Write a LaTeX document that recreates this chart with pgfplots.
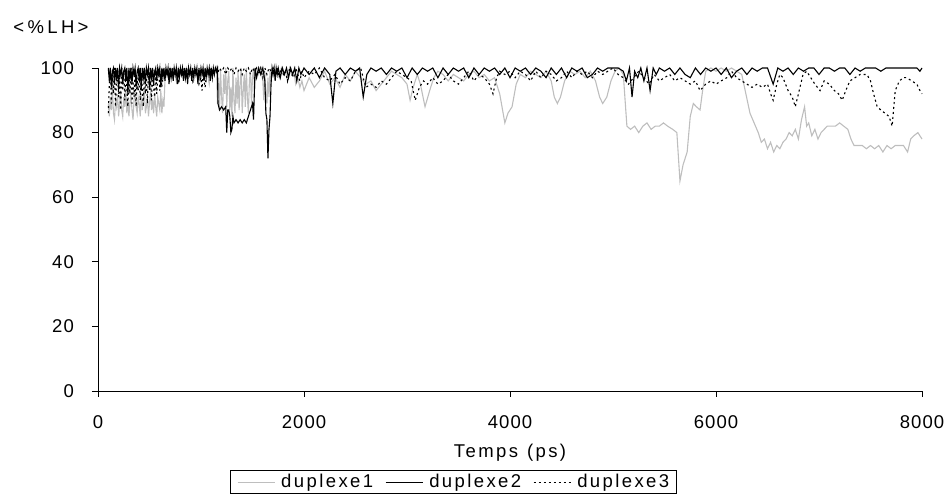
\documentclass[border=0pt]{standalone}
\usepackage{fontspec}
\setmainfont{Liberation Sans}[LetterSpace=13]
\newfontfamily\tickfont{Liberation Sans}[LetterSpace=6]
\newfontfamily\titlefont{Liberation Sans}[LetterSpace=18]
\usepackage{pgfplots}
\usepackage{pgfplotstable}
\pgfplotsset{compat=1.18}
\definecolor{lg}{RGB}{190,190,190}

\pgfplotstableread{
x y
100 89
110 85
120 91
130 87
140 94
150 86
160 84
170 90
180 88
190 92
200 85
210 89
220 93
230 87
240 85
250 91
260 88
270 94
280 86
290 90
300 85
310 89
320 92
330 87
340 84
350 90
360 93
370 88
380 86
390 91
400 89
410 85
420 92
430 87
440 90
450 94
460 86
470 88
480 91
490 85
500 89
510 93
520 87
530 90
540 86
550 92
560 88
570 85
580 91
590 89
600 87
610 93
620 86
630 90
640 88
650 96
660 99
680 97
700 100
720 98
740 99
760 96
780 100
800 98
820 99
840 97
860 100
880 98
900 99
920 96
940 100
960 98
980 99
1000 97
1020 100
1040 98
1060 99
1080 95
1100 100
1120 98
1140 99
1150 100
1160 89
1170 97
1180 87
1190 99
1200 91
1210 86
1220 98
1230 92
1240 100
1250 88
1260 96
1270 99
1280 87
1290 94
1300 85
1310 100
1320 90
1330 86
1340 97
1350 89
1360 99
1370 87
1380 95
1390 100
1400 86
1410 93
1420 98
1430 88
1440 100
1450 91
1460 86
1470 96
1480 99
1490 89
1500 97
1510 100
1520 93
1530 99
1540 100
1560 98
1580 100
1600 96
1610 90
1620 99
1630 92
1640 89
1650 97
1660 91
1670 99
1680 96
1700 100
1720 98
1740 99
1760 97
1780 100
1800 98
1820 99
1840 96
1860 100
1880 98
1900 99
1920 95
1940 97
1960 94
1980 96
2000 93
2050 97
2100 94
2150 96
2200 99
2250 95
2300 97
2350 94
2400 98
2450 96
2500 99
2550 97
2600 95
2650 96
2700 93
2750 95
2800 97
2850 99
2900 98
2950 97
3000 95
3030 90
3060 94
3100 98
3130 95
3175 88
3220 93
3260 97
3300 99
3350 98
3400 96
3450 98
3500 97
3550 96
3600 98
3650 99
3700 97
3750 98
3800 96
3850 97
3900 92
3950 83
3980 86
4020 88
4060 95
4100 98
4150 97
4200 99
4250 98
4300 97
4350 99
4400 96
4430 91
4460 89
4490 91
4530 96
4580 99
4630 98
4680 99
4730 97
4780 99
4830 96
4870 91
4900 89
4940 91
4980 96
5020 99
5060 100
5100 98
5135 82
5170 81
5210 82
5250 80
5290 82
5330 83
5370 81
5410 82
5450 82
5490 83
5530 82
5580 81
5620 80
5650 65
5680 70
5720 74
5750 85
5780 89
5810 88
5845 87
5870 93
5900 99
5950 100
6000 99
6050 100
6100 99
6150 100
6200 99
6250 98
6290 92
6330 86
6370 83
6410 80
6440 77
6470 78
6500 75
6530 77
6560 74
6590 76
6620 75
6650 77
6680 78
6710 80
6740 79
6770 81
6800 78
6830 84
6860 88
6880 82
6900 83
6930 79
6960 81
6990 78
7020 80
7050 81
7080 82
7120 82
7160 82
7200 83
7240 82
7280 81
7310 78
7340 76
7380 76
7420 76
7460 75
7500 76
7540 75
7580 76
7620 74
7660 76
7700 75
7740 76
7780 76
7820 76
7860 74
7890 78
7920 79
7960 80
8000 78
}\dataA

\pgfplotstableread{
x y
100 100
110 96
120 100
130 94
140 99
150 100
160 95
170 100
180 97
190 100
200 93
210 100
220 98
230 100
240 95
250 99
260 100
270 96
280 100
290 92
300 100
310 97
320 100
330 95
340 100
350 98
360 100
370 94
380 99
390 100
400 96
410 100
420 93
430 100
440 97
450 100
460 95
470 100
480 98
490 100
500 94
510 100
520 97
530 100
540 95
550 99
560 100
570 96
580 100
590 98
600 100
610 94
620 100
630 97
640 100
650 96
660 100
670 98
680 100
690 95
700 100
710 97
720 100
730 96
740 100
750 98
760 100
770 95
780 100
790 97
800 100
810 98
820 100
830 96
840 100
850 97
860 100
870 95
880 100
890 98
900 100
910 96
920 100
930 97
940 100
950 98
960 100
970 95
980 100
990 97
1000 100
1010 98
1020 100
1030 96
1040 100
1050 97
1060 100
1070 98
1080 100
1090 96
1100 100
1110 97
1120 100
1130 98
1140 100
1150 99
1160 100
1165 89
1180 87
1200 88
1220 87
1240 88
1250 80
1260 87
1270 87
1280 85
1290 80
1300 81
1310 85
1320 83
1340 84
1360 83
1380 84
1400 83
1420 84
1440 83
1460 85
1480 87
1500 89
1510 84
1525 100
1540 97
1560 100
1580 98
1600 100
1620 96
1630 86
1640 84
1650 72
1660 81
1670 85
1680 95
1690 100
1700 98
1710 100
1720 96
1730 100
1740 98
1750 100
1770 97
1790 100
1810 98
1830 100
1850 97
1870 100
1890 98
1910 100
1930 96
1950 100
1970 98
2000 100
2050 98
2100 100
2150 97
2200 100
2250 98
2280 89
2310 99
2350 100
2400 98
2450 100
2500 99
2540 100
2575 91
2610 98
2650 100
2700 99
2750 100
2800 98
2850 100
2900 99
2950 100
3000 97
3050 100
3100 98
3150 100
3200 99
3250 100
3300 97
3350 100
3400 98
3450 100
3500 99
3550 100
3600 97
3650 100
3700 98
3750 100
3800 99
3850 100
3900 98
3950 100
4000 97
4050 100
4100 99
4150 100
4200 98
4250 100
4300 99
4350 97
4400 100
4450 98
4500 100
4550 97
4600 100
4650 99
4700 100
4750 97
4800 98
4850 100
4900 99
4950 100
5000 100
5050 100
5100 99
5130 96
5160 100
5185 91
5210 99
5240 97
5270 100
5300 96
5330 100
5360 93
5390 100
5420 98
5450 100
5500 99
5550 100
5600 98
5650 100
5700 98
5750 97
5800 100
5850 98
5900 100
5950 99
6000 100
6050 98
6100 100
6150 97
6200 99
6250 100
6300 98
6350 100
6400 99
6450 100
6500 100
6555 95
6600 100
6650 99
6700 100
6750 98
6800 100
6850 99
6900 100
6950 100
7000 98
7050 100
7100 100
7150 99
7200 100
7250 100
7300 98
7350 100
7400 99
7450 100
7500 100
7550 100
7600 99
7650 100
7700 100
7750 100
7800 100
7850 100
7900 100
7950 100
7980 99
8000 100
}\dataB

\pgfplotstableread{
x y
100 86
110 95
120 100
130 89
140 98
150 92
160 100
170 88
180 96
190 100
200 91
210 97
220 87
230 100
240 93
250 99
260 90
270 100
280 94
290 88
300 98
310 92
320 100
330 89
340 96
350 91
360 100
370 88
380 97
390 93
400 100
410 90
420 98
430 94
440 88
450 100
460 92
470 97
480 89
490 100
500 93
510 96
520 90
530 100
540 94
550 91
560 99
570 92
580 97
590 100
600 93
610 98
620 94
630 100
640 97
650 99
660 100
680 98
700 100
720 97
740 100
760 99
780 96
800 100
820 98
840 100
860 97
880 100
900 99
920 96
940 100
960 98
980 95
1000 97
1010 93
1020 98
1040 94
1060 100
1080 98
1100 100
1120 99
1140 100
1160 98
1180 100
1200 99
1220 100
1240 98
1260 100
1280 99
1300 100
1320 98
1340 100
1360 99
1380 100
1400 98
1420 100
1440 99
1460 100
1480 98
1500 100
1520 99
1540 100
1560 98
1580 100
1600 97
1620 100
1640 98
1660 100
1680 99
1700 100
1720 98
1740 100
1760 97
1780 100
1800 98
1820 99
1840 96
1860 100
1880 98
1900 97
1920 100
1940 98
1960 96
1980 99
2000 97
2050 99
2100 98
2150 100
2200 97
2250 96
2300 98
2350 95
2400 97
2450 96
2500 99
2550 100
2600 94
2650 95
2700 94
2750 96
2800 95
2850 97
2900 99
2950 98
3000 97
3040 96
3080 90
3120 94
3160 96
3200 95
3250 97
3300 95
3350 96
3400 98
3450 96
3500 95
3550 97
3600 99
3650 96
3700 98
3750 97
3800 95
3835 92
3870 97
3900 99
3950 98
4000 99
4050 97
4100 99
4150 98
4200 96
4250 99
4300 97
4350 99
4400 98
4450 96
4500 97
4550 99
4600 97
4650 99
4700 98
4750 99
4800 97
4850 99
4900 98
4950 99
5000 100
5050 98
5100 97
5150 95
5200 97
5250 99
5300 97
5350 95
5400 98
5450 96
5500 97
5550 98
5600 96
5650 97
5700 96
5750 95
5800 96
5845 93
5900 95
5950 96
6000 95
6050 96
6105 97
6150 99
6200 97
6250 96
6300 95
6350 94
6400 95
6450 94
6500 95
6530 92
6555 90
6590 95
6620 98
6650 97
6700 93
6740 91
6770 88
6800 92
6845 98
6880 99
6920 97
6960 95
7010 93
7050 96
7100 95
7150 93
7190 92
7225 90
7260 93
7300 96
7350 97
7400 98
7465 98
7500 96
7530 92
7565 88
7600 87
7640 86
7680 85
7710 82
7740 93
7780 96
7820 97
7850 97
7900 96
7950 95
7980 93
8000 92
}\dataC

\begin{document}
\fontsize{18.5}{21}\selectfont
\begin{tikzpicture}
\useasboundingbox (-98pt,-106pt) rectangle (850pt,391pt);
\begin{axis}[
  at={(0,0)}, anchor=south west,
  scale only axis, width=824pt, height=323pt,
  xmin=0, xmax=8000, ymin=0, ymax=100,
  axis lines*=left,
  axis line style={black, line width=0.8pt},
  xtick={0,2000,4000,6000,8000},
  ytick={0,20,40,60,80,100},
  tick align=outside,
  major tick length=6pt,
  tick style={black, line width=0.8pt},
  /pgf/number format/1000 sep={},
  /pgf/number format/assume math mode=true,
  xticklabel style={font=\tickfont, inner sep=0pt, anchor=north, yshift=-18pt},
  yticklabel style={font=\tickfont, inner sep=0pt, anchor=east, xshift=-18pt},
  xlabel={Temps\hspace{9pt}(ps)},
  xlabel style={at={(axis description cs:0.5,0)}, anchor=center, yshift=-62pt, inner sep=0pt},
  legend style={at={(axis description cs:0.160,-0.245)}, anchor=north west,
    legend columns=3, draw=black, line width=0.6pt, inner xsep=4pt, inner ysep=1pt,
    nodes={inner xsep=3pt, inner ysep=2.5pt},
    /tikz/every even column/.append style={column sep=6pt}},
  legend image code/.code={\draw[#1, line width=0.8pt] (0pt,0pt) -- (37pt,0pt); \path (-3pt,0pt) (40pt,0pt);},
  clip=false,
]
\addplot[lg, line width=1.1pt] table[x=x,y=y] {\dataA};
\addlegendentry{duplexe1}
\addplot[black, line width=1.1pt] table[x=x,y=y] {\dataB};
\addlegendentry{duplexe2}
\addplot[black, line width=1.1pt, dash pattern=on 2pt off 3pt] table[x=x,y=y] {\dataC};
\addlegendentry{duplexe3}
\node[inner sep=0pt, font=\titlefont] at (axis description cs:0,1) [xshift=-47pt, yshift=41pt] {<\%LH>};
\end{axis}
\end{tikzpicture}
\end{document}
